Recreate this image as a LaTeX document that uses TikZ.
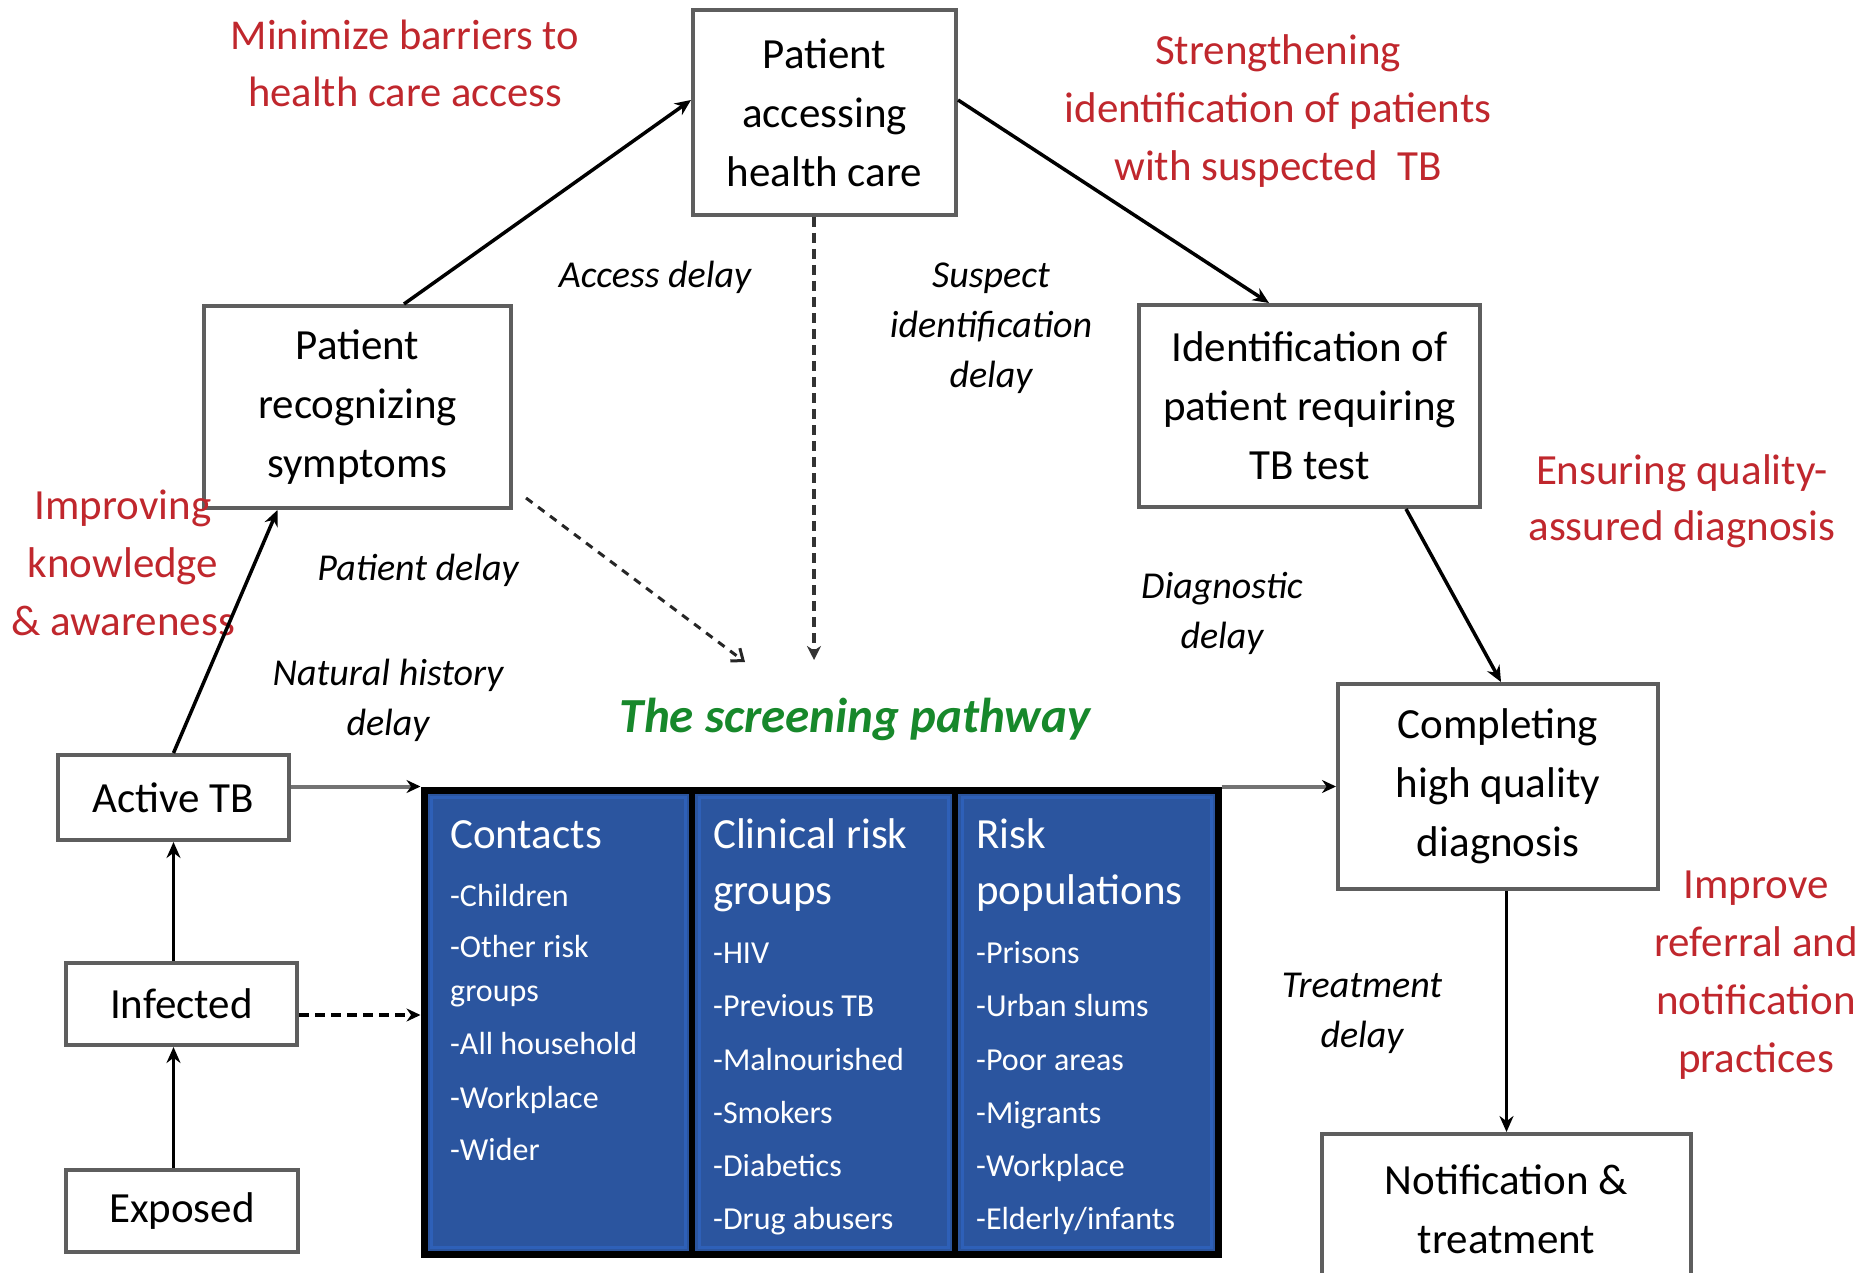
\documentclass[tikz,border=0pt]{standalone}
\usepackage{fontspec}
\setmainfont{Carlito}
\usetikzlibrary{arrows.meta}
\definecolor{tbred}{HTML}{C0272D}
\definecolor{tbgreen}{HTML}{17882B}
\definecolor{tbblue}{HTML}{2B559F}
\definecolor{tblight}{HTML}{2E60B8}
\definecolor{boxgray}{HTML}{5E5E5E}
\begin{document}
\begin{tikzpicture}[x=1pt,y=-1pt,
  box/.style={draw=boxgray, line width=4pt, fill=white, align=center, inner sep=0pt, font=\fontsize{43}{59}\selectfont},
  redlab/.style={text=tbred, align=center, inner sep=0pt, font=\fontsize{43}{58}\selectfont},
  delaylab/.style={align=center, inner sep=0pt, font=\itshape\fontsize{38}{50}\selectfont},
  greenlab/.style={text=tbgreen, inner sep=0pt, font=\bfseries\itshape\fontsize{49}{59}\selectfont},
  arr/.style={line width=3.5pt, -{Stealth[length=16pt,width=14pt]}},
  graylink/.style={line width=4pt, draw=black!55, -{Stealth[length=14pt,width=13pt,color=black]}},
  dasharr/.style={line width=4pt, dash pattern=on 10pt off 6pt, -{Stealth[length=14pt,width=13pt]}},
  vdash/.style={line width=3.5pt, draw=black!80, dash pattern=on 10pt off 6pt, -{Stealth[length=14pt,width=14pt]}},
  ddash/.style={line width=3pt, draw=black!85, dash pattern=on 8pt off 7pt, -{Straight Barb[length=10pt,width=16pt]}},
  colhead/.style={text=white, inner sep=0pt, anchor=base west, font=\fontsize{43}{58}\selectfont},
  colitem/.style={text=white, inner sep=0pt, anchor=base west, font=\fontsize{32}{40}\selectfont},
  colbox/.style={draw=tblight, line width=3pt, inner sep=0pt, minimum height=450pt}
]
\fill[white] (0,0) rectangle (1873,1273);
\useasboundingbox (0,0) rectangle (1873,1273);

% main boxes
\node[box, minimum width=263pt, minimum height=205pt] (pa) at (824.5,112.5) {Patient\\accessing\\health care};
\node[box, minimum width=307pt, minimum height=202pt] (pr) at (357.5,407) {Patient\\recognizing\\symptoms};
\node[box, minimum width=341pt, minimum height=202pt] (id) at (1309.5,406) {Identification of\\patient requiring\\TB test};
\node[box, minimum width=320pt, minimum height=205pt] (cd) at (1498,786.5) {Completing\\high quality\\diagnosis};
\node[box, minimum width=369pt, minimum height=150pt] (nt) at (1506.5,1209) {Notification \&\\treatment};
\node[box, minimum width=231pt, minimum height=85pt] (atb) at (173.5,797.5) {Active TB};
\node[box, minimum width=231pt, minimum height=82pt] (inf) at (181.5,1004) {Infected};
\node[box, minimum width=232pt, minimum height=82pt] (exp) at (182,1211) {Exposed};

% screening block
\node[draw=black, line width=7pt, fill=tbblue, minimum width=794pt, minimum height=464pt, inner sep=0pt] (blk) at (821,1022) {};
\node[colbox, minimum width=254pt] (c1) at (558,1022) {};
\node[colbox, minimum width=249pt] (c2) at (823.5,1022) {};
\node[colbox, minimum width=249pt] (c3) at (1086.5,1022) {};
\draw[line width=6pt] (692,790) -- (692,1254);
\draw[line width=6pt] (955,790) -- (955,1254);

\node[colhead] (h1) at (450,848) {Contacts};
\node[colhead] (h2a) at (713,848) {Clinical risk};
\node[colhead] (h2b) at (713,904) {groups};
\node[colhead] (h3a) at (976,848) {Risk};
\node[colhead] (h3b) at (976,904) {populations};
\foreach \yy/\tt [count=\i] in {906/-Children, 957/-Other risk, 1001/groups, 1054/-All household, 1108/-Workplace, 1160/-Wider}
  \node[colitem] (ia\i) at (450,\yy) {\tt};
\foreach \yy/\tt [count=\i] in {963/-HIV, 1016/-Previous TB, 1070/-Malnourished, 1123/-Smokers, 1176/-Diabetics, 1229/-Drug abusers}
  \node[colitem] (ib\i) at (713,\yy) {\tt};
\foreach \yy/\tt [count=\i] in {963/-Prisons, 1016/-Urban slums, 1070/-Poor areas, 1123/-Migrants, 1176/-Workplace, 1229/{-Elderly/infants}}
  \node[colitem] (ic\i) at (976,\yy) {\tt};

% red labels
\node[redlab, font=\fontsize{42.5}{57}\selectfont] (r1) at (405,63.5) {Minimize barriers to\\health care access};
\node[redlab] (r2) at (1278,111) {Strengthening\\identification of patients\\with suspected~~TB};
\node[redlab, font=\fontsize{43}{56}\selectfont] (r3) at (1682,501) {Ensuring quality-\\assured diagnosis};
\node[redlab] (r4) at (123,563) {Improving\\knowledge\\\& awareness};
\node[redlab] (r5) at (1756,975) {Improve\\referral and\\notification\\practices};

% delay labels
\node[delaylab] (d1) at (655,277) {Access delay};
\node[delaylab] (d2) at (991,328) {Suspect\\identification\\delay};
\node[delaylab] (d3) at (418,570) {Patient delay};
\node[delaylab] (d4) at (388,700) {Natural history\\delay};
\node[delaylab] (d5) at (1222,613) {Diagnostic\\delay};
\node[delaylab] (d6) at (1362,1013) {Treatment\\delay};

\node[greenlab] (gl) at (855,719) {The screening pathway};

% connectors
\draw[arr] (atb.center |- exp.north) -- (atb.center |- inf.south);
\draw[arr] (atb.center |- inf.north) -- (atb.south);
\draw[arr] (atb.north) -- ([xshift=-80pt]pr.south);
\draw[arr] ([xshift=46.5pt]pr.north) -- ([yshift=12.5pt]pa.west);
\draw[arr] ([yshift=12.5pt]pa.east) -- ([xshift=-40.5pt]id.north);
\draw[arr] ([xshift=96.5pt]id.south) -- ([xshift=3pt]cd.north);
\draw[arr] (nt.north |- cd.south) -- (nt.north);
\draw[graylink] (atb.east |- blk.north) -- (blk.north west);
\draw[graylink] (blk.north east) -- (blk.north east -| cd.west);
\draw[dasharr] ([yshift=-11pt]inf.east) -- ([yshift=-11pt]inf.east -| blk.west);
\coordinate (sp1) at (814,660);
\coordinate (sp2) at (745,662);
\draw[vdash] ([xshift=-10.5pt]pa.south) -- (sp1);
\draw[ddash] ([xshift=13pt,yshift=12pt]pr.south east) -- (sp2);
\end{tikzpicture}
\end{document}
